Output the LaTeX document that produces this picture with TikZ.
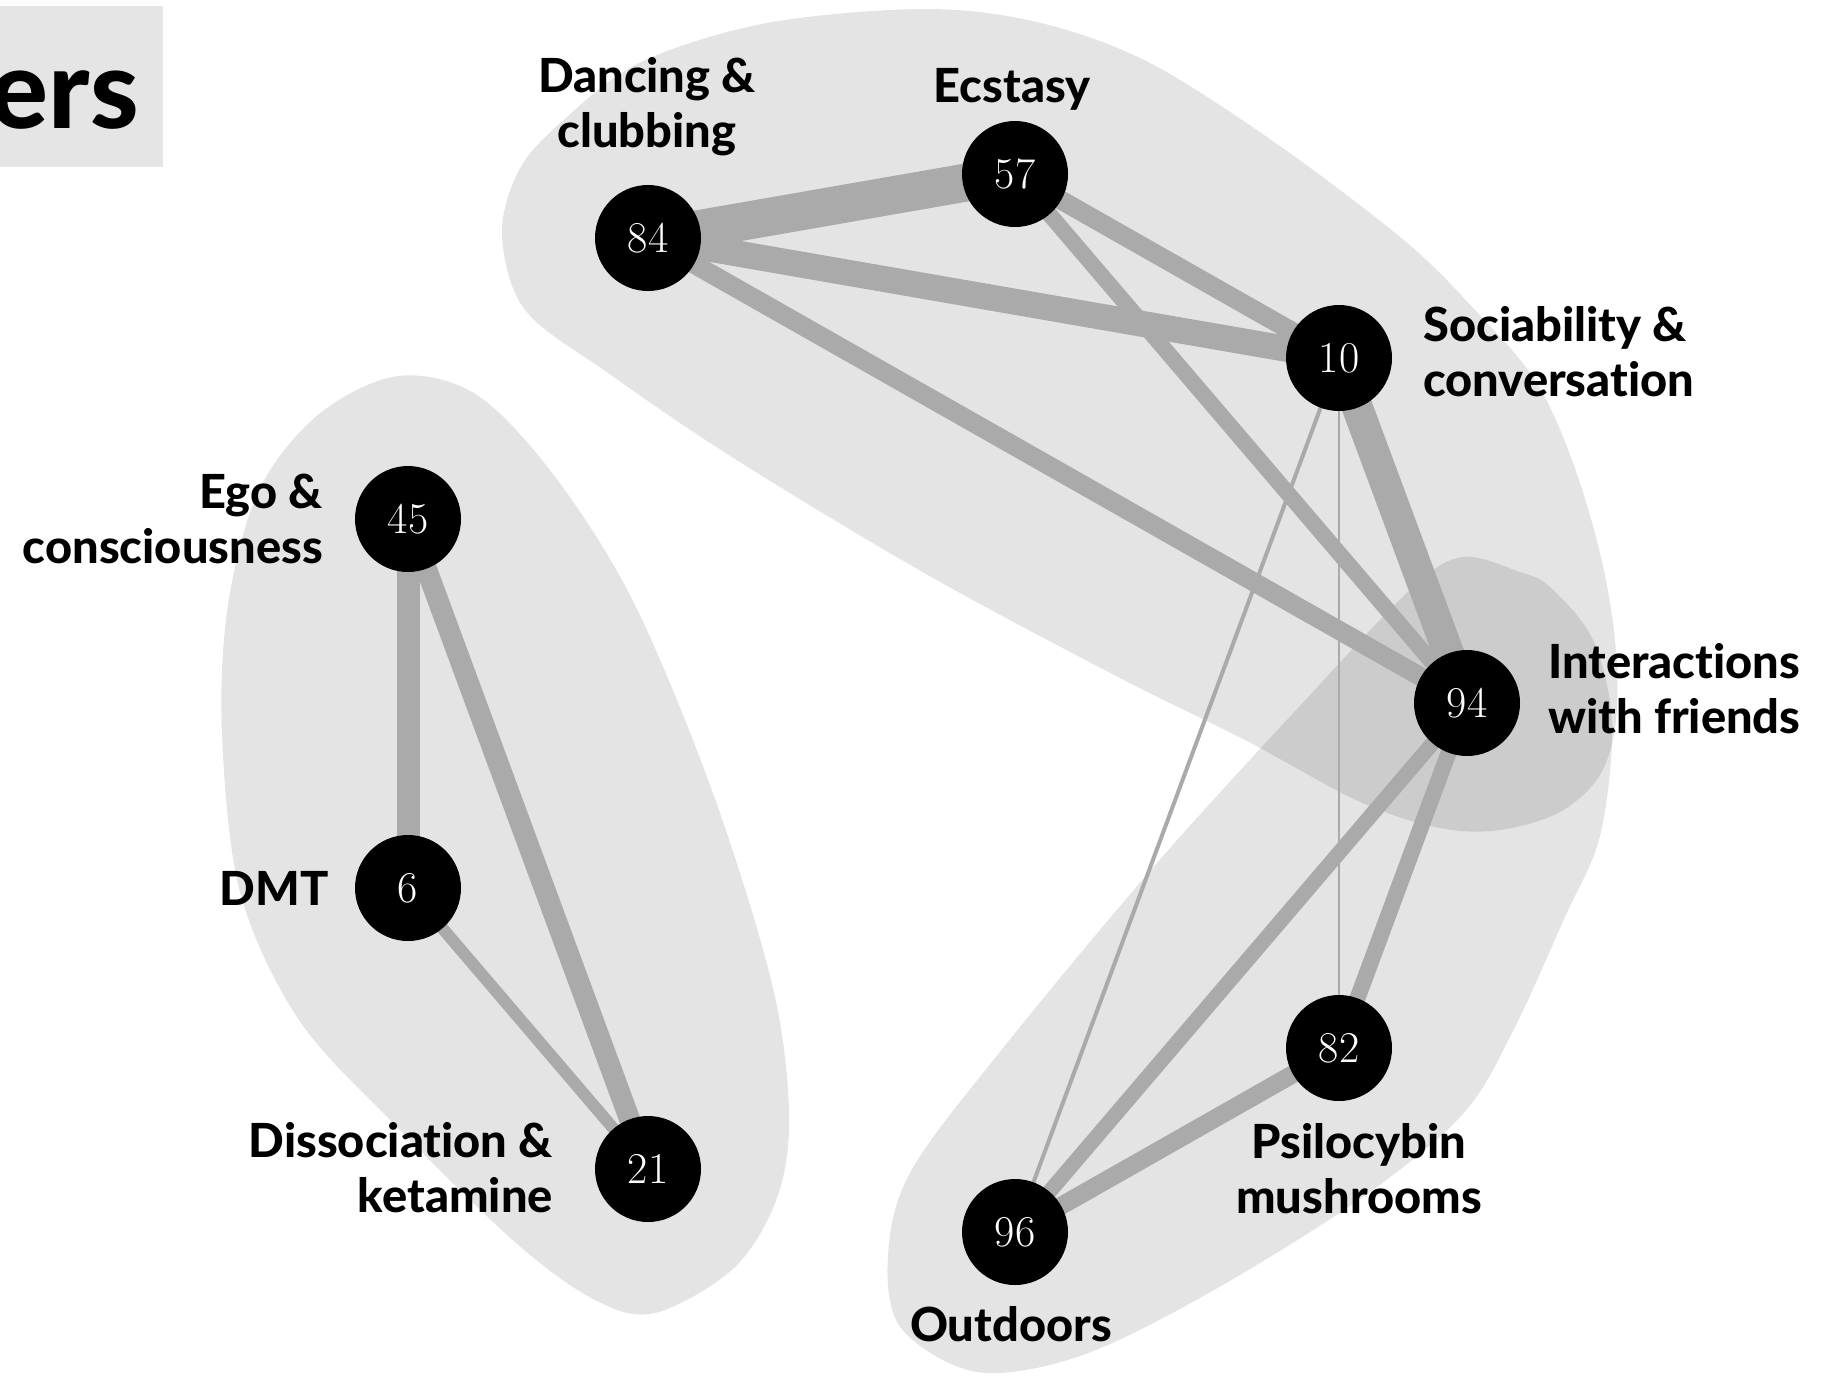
\documentclass[tikz,border=0pt]{standalone}
\usepackage{fontspec}
\newfontfamily\lab{Lato}[Ligatures=NoCommon, BoldFont={Lato Heavy}]
\definecolor{edgegray}{HTML}{AAAAAA}
\pgfdeclarelayer{blobs}
\pgfdeclarelayer{edges}
\pgfsetlayers{blobs,edges,main}
\tikzset{
  dot/.style={circle, fill=black, text=white, minimum size=106pt, inner sep=0pt,
    font=\fontsize{44}{44}\selectfont},
  edge/.style={draw=edgegray, line cap=butt},
  blob/.style={fill=black, fill opacity=0.105, draw=none},
  lbl/.style={font=\lab\bfseries\fontsize{47}{55}\selectfont, inner sep=0pt},
}
\begin{document}
\begin{tikzpicture}[x=1pt, y=-1pt]
\useasboundingbox (0,0) rectangle (1827,1377);

% title box
\fill[black!10] (0,6) rectangle (163,167);
\node[font=\lab\bfseries\fontsize{110}{110}\selectfont, inner sep=0pt, anchor=base east] (title) at (139,128) {ers};

% nodes
\node[dot] (n84) at (648,238) {84};
\node[dot] (n57) at (1015,174) {57};
\node[dot] (n10) at (1339,358) {10};
\node[dot] (n94) at (1467,703) {94};
\node[dot] (n82) at (1339,1048) {82};
\node[dot] (n96) at (1015,1232) {96};
\node[dot] (n45) at (408,519) {45};
\node[dot] (n6)  at (408,888) {6};
\node[dot] (n21) at (648,1169) {21};

% labels (multi-line: anchor base = last line's baseline)
\node[lbl, anchor=base, align=center] (l84) at (647,147) {Dancing \&\\clubbing};
\node[lbl, anchor=base] (l57) at (1012,102) {Ecstasy};
\node[lbl, anchor=base west, align=left] (l10) at (1423,396) {Sociability \&\\conversation};
\node[lbl, anchor=base west, align=left] (l94) at (1548,733) {Interactions\\with friends};
\node[lbl, anchor=base, align=center] (l82) at (1359,1213) {Psilocybin\\mushrooms};
\node[lbl, anchor=base] (l96) at (1011,1341) {Outdoors};
\node[lbl, anchor=base east, align=right] (l45) at (323,563) {Ego \&\\consciousness};
\node[lbl, anchor=base east] (l6) at (329,905) {DMT};
\node[lbl, anchor=base east, align=right] (l21) at (553,1212) {Dissociation \&\\ketamine};

% blobs
\begin{pgfonlayer}{blobs}
\fill[blob] plot[smooth cycle, tension=0.55] coordinates {
  (502,235) (518,172) (557,126) (639,63) (767,23) (926,9) (1041,23) (1150,63)
  (1277,144) (1405,241) (1475,310) (1535,380) (1572,460) (1600,553) (1615,640)
  (1616,720) (1600,775) (1560,812) (1500,830) (1440,828) (1360,802) (1245,740)
  (1118,677) (926,574) (735,459) (608,373) (525,310)};
\fill[blob] plot[smooth cycle, tension=0.55] coordinates {
  (1462,557) (1520,572) (1550,587) (1593,640) (1612,724) (1600,836) (1564,919)
  (1513,1031) (1462,1115) (1360,1199) (1207,1294) (1080,1356) (977,1372) (901,1328)
  (888,1255) (911,1171) (1003,1048) (1156,864) (1309,696) (1411,589)};
\fill[blob] plot[smooth cycle, tension=0.55] coordinates {
  (398,376) (477,395) (556,478) (635,605) (714,796) (773,988) (789,1115) (777,1198)
  (734,1268) (655,1313) (595,1300) (516,1243) (398,1128) (299,1020) (240,892)
  (222,733) (228,605) (259,490) (319,414)};
\end{pgfonlayer}

% edges
\begin{pgfonlayer}{edges}
\draw[edge, line width=38pt] (n84.center) -- (n57.center);
\draw[edge, line width=26pt] (n84.center) -- (n10.center);
\draw[edge, line width=19pt] (n84.center) -- (n94.center);
\draw[edge, line width=19pt] (n57.center) -- (n10.center);
\draw[edge, line width=16pt] (n57.center) -- (n94.center);
\draw[edge, line width=31pt] (n10.center) -- (n94.center);
\draw[edge, line width=4pt]  (n10.center) -- (n96.center);
\draw[edge, line width=2.5pt] (n10.center) -- (n82.center);
\draw[edge, line width=15pt] (n94.center) -- (n96.center);
\draw[edge, line width=16pt] (n94.center) -- (n82.center);
\draw[edge, line width=18pt] (n82.center) -- (n96.center);
\draw[edge, line width=23pt] (n45.center) -- (n6.center);
\draw[edge, line width=21pt] (n45.center) -- (n21.center);
\draw[edge, line width=12pt] (n6.center) -- (n21.center);
\end{pgfonlayer}
\end{tikzpicture}
\end{document}
